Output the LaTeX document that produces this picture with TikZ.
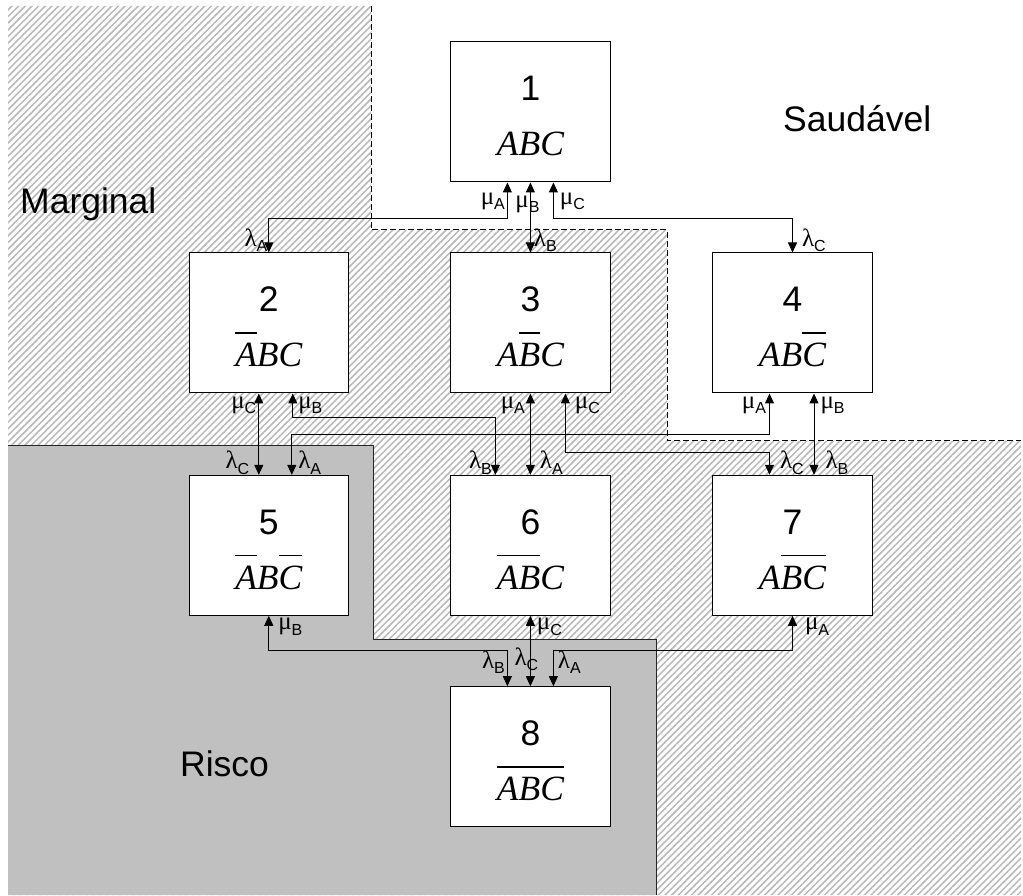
\documentclass[tikz,border=0pt]{standalone}
\usepackage{fontspec}
\setmainfont{Liberation Sans}
\newfontfamily\serifa{Liberation Serif}
\usetikzlibrary{calc,arrows.meta,patterns.meta}
\definecolor{cinzarisco}{HTML}{C0C0C0}
\definecolor{cinzahachura}{HTML}{B8B8B8}
\tikzstyle{estado} = [rectangle, minimum width=159.5pt, minimum height=140pt, inner sep=0pt, draw=black, line width=1pt, fill=white]
\tikzstyle{numero} = [font=\fontsize{35.5}{36}\selectfont, inner sep=0pt, anchor=base]
\tikzstyle{expr} = [font=\serifa\itshape\fontsize{35.5}{36}\selectfont, inner sep=0pt, anchor=base]
\tikzstyle{regiao} = [font=\fontsize{35.5}{36}\selectfont, inner sep=0pt, anchor=base west]
\tikzstyle{taxa} = [font=\fontsize{25}{25}\selectfont, inner sep=0pt]
\tikzstyle{seta} = [line width=1pt, {Triangle[length=10pt,width=9pt]}-{Triangle[length=10pt,width=9pt]}]
\tikzset{
  hachura/.style={
    pattern={Lines[angle=45,distance=4.7pt,line width=1.5pt]}, % linhas / cinzentas
    pattern color=cinzahachura
  }
}
% barra de negacao sobre as letras
\newcommand{\nao}[1]{\setbox0\hbox{#1}\rlap{\rule[0.93em]{\wd0}{0.045em}}\box0}
\newcommand{\taxamu}[1]{{\serifa μ}\raisebox{-5.5pt}{\fontsize{16}{16}\selectfont #1}}
\newcommand{\taxala}[1]{{\serifa λ}\raisebox{-5.5pt}{\fontsize{16}{16}\selectfont #1}}
\newcommand{\estado}[4]{%
  \node (s#1)[estado] at (#2,#3) {};
  \node (n#1)[numero] at ($(s#1.north)+(0,59.4)$) {#1};
  \node (e#1)[expr] at ($(s#1.north)+(0,114.4)$) {#4};
}

\begin{document}
\begin{tikzpicture}[x=1pt, y=-1pt]
      \fill[white] (0,0) rectangle (1023,895);
      % regioes
      \fill[hachura] (8,6) -- (371,6) -- (371,230) -- (667,230) -- (667,441) -- (1021,441) -- (1021,895) -- (8,895) -- cycle;
      \fill[cinzarisco] (8,445) -- (373,445) -- (373,639) -- (656,639) -- (656,895) -- (8,895) -- cycle;
      \draw[black!85, line width=0.8pt] (8,445) -- (373,445) -- (373,639) -- (656,639) -- (656,895);
      \draw[line width=1pt, dash pattern=on 6pt off 3pt] (371,6) -- (371,230) -- (667,230) -- (667,441) -- (1021,441);
      \node (marginal)[regiao] at (20,213.3) {Marginal};
      \node (saudavel)[regiao] at (783,132) {Saudável};
      \node (risco)[regiao] at (180,776) {Risco};
      % estados
      \estado{1}{530.4}{112}{ABC}
      \estado{2}{268.8}{323}{\nao{A}BC}
      \estado{3}{530.4}{323}{A\nao{B}C}
      \estado{4}{792.5}{323}{AB\nao{C}}
      \estado{5}{268.8}{545.3}{\nao{A}B\nao{C}}
      \estado{6}{530.4}{545.3}{\nao{AB}C}
      \estado{7}{792.5}{545.3}{A\nao{BC}}
      \estado{8}{530.4}{756.7}{\nao{ABC}}
      % transicoes
      \draw [seta]($(s1.south)+(-23,0)$) node[taxa, anchor=north east, xshift=-2pt, yshift=-10pt] (m1a) {\taxamu{A}} -- ++(0,35.6) -| (s2.north) node[taxa, anchor=south east, xshift=-1pt] (l2a) {\taxala{A}};
      \draw [seta](s1.south) node[taxa, anchor=north, xshift=-3pt, yshift=-13pt] (m1b) {\taxamu{B}} -- (s3.north) node[taxa, anchor=south west, xshift=3pt] (l3b) {\taxala{B}};
      \draw [seta]($(s1.south)+(23,0)$) node[taxa, anchor=north west, xshift=6pt, yshift=-10pt] (m1c) {\taxamu{C}} -- ++(0,35.6) -| (s4.north) node[taxa, anchor=south west, xshift=9pt] (l4c) {\taxala{C}};
      \draw [seta]($(s2.south)+(-10,0)$) node[taxa, anchor=north east, xshift=-2pt, yshift=-3pt] (m2c) {\taxamu{C}} -- ($(s5.north)+(-10,0)$) node[taxa, anchor=south east, xshift=-9pt] (l5c) {\taxala{C}};
      \draw [seta]($(s2.south)+(24,0)$) node[taxa, anchor=north west, xshift=5pt, yshift=-3pt] (m2b) {\taxamu{B}} -- ++(0,24) -| ($(s6.north)+(-35,0)$) node[taxa, anchor=south east, xshift=-3pt] (l6b) {\taxala{B}};
      \draw [seta](s3.south) node[taxa, anchor=north east, xshift=-5pt, yshift=-3pt] (m3a) {\taxamu{A}} -- (s6.north) node[taxa, anchor=south west, xshift=9pt] (l6a) {\taxala{A}};
      \draw [seta]($(s3.south)+(35,0)$) node[taxa, anchor=north west, xshift=9pt, yshift=-3pt] (m3c) {\taxamu{C}} -- ++(0,59.4) -| ($(s7.north)+(-23,0)$) node[taxa, anchor=south west, xshift=10pt] (l7c) {\taxala{C}};
      \draw [seta]($(s4.south)+(-23,0)$) node[taxa, anchor=north east, xshift=-3pt, yshift=-3pt] (m4a) {\taxamu{A}} -- ++(0,41.3) -| ($(s5.north)+(23,0)$) node[taxa, anchor=south west, xshift=6pt] (l5a) {\taxala{A}};
      \draw [seta]($(s4.south)+(21.5,0)$) node[taxa, anchor=north west, xshift=6pt, yshift=-3pt] (m4b) {\taxamu{B}} -- ($(s7.north)+(21.5,0)$) node[taxa, anchor=south west, xshift=11pt] (l7b) {\taxala{B}};
      \draw [seta](s5.south) node[taxa, anchor=north west, xshift=9pt, yshift=-2pt] (m5b) {\taxamu{B}} -- ++(0,35) -| ($(s8.north)+(-23,0)$) node[taxa, anchor=south east, xshift=-2pt, yshift=12pt] (l8b) {\taxala{B}};
      \draw [seta](s6.south) node[taxa, anchor=north west, xshift=6pt, yshift=-2pt] (m6c) {\taxamu{C}} -- (s8.north) node[taxa, anchor=south, xshift=-4pt, yshift=15pt] (l8c) {\taxala{C}};
      \draw [seta](s7.south) node[taxa, anchor=north west, xshift=12pt, yshift=-2pt] (m7a) {\taxamu{A}} -- ++(0,35) -| ($(s8.north)+(23,0)$) node[taxa, anchor=south west, xshift=4pt, yshift=12pt] (l8a) {\taxala{A}};
\end{tikzpicture}
\end{document}
